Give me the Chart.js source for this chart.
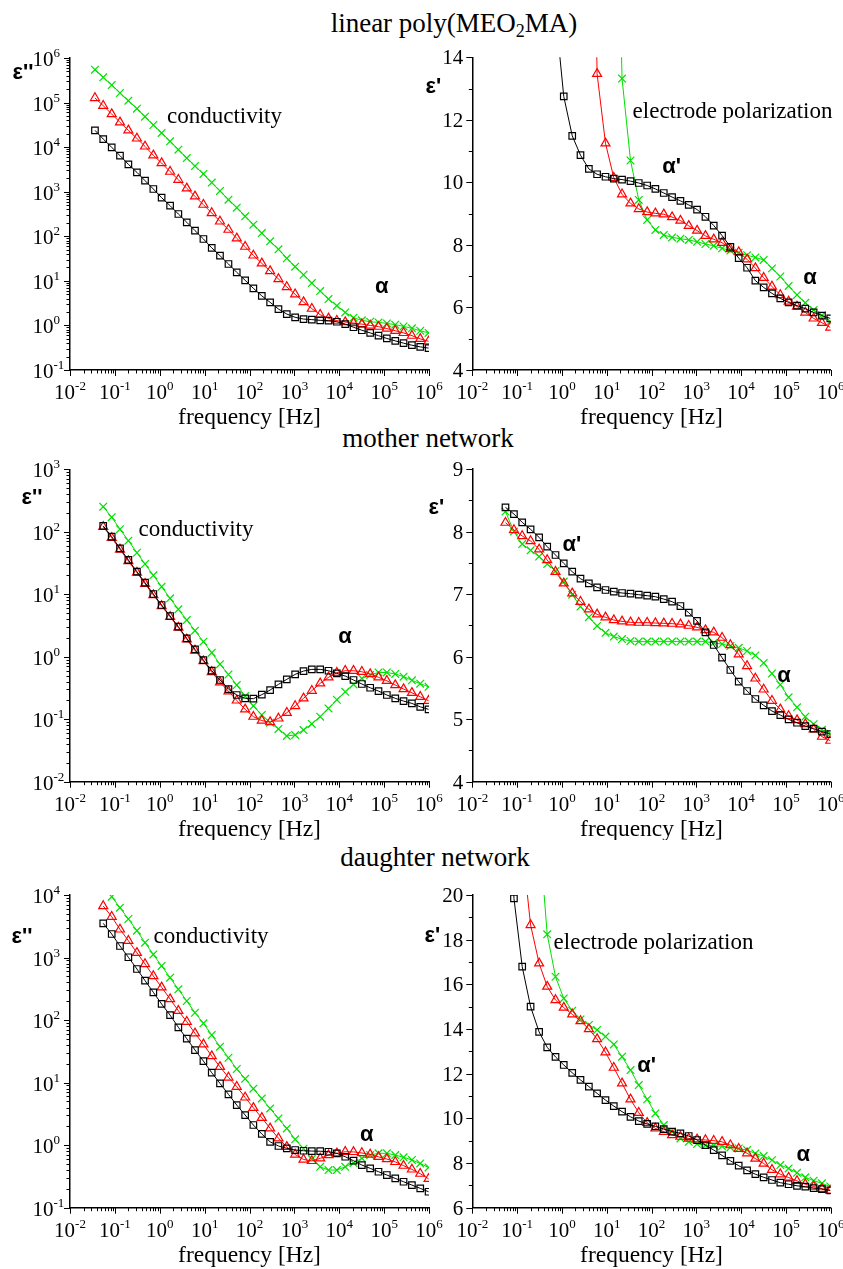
<!DOCTYPE html>
<html lang="en">
<head>
<meta charset="utf-8">
<title>Dielectric spectra</title>
<script src="https://cdn.jsdelivr.net/npm/chart.js@4.4.1/dist/chart.umd.min.js"></script>
<style>
  html, body { margin: 0; padding: 0; background: #fff; }
  body { position: relative; width: 843px; height: 1269px; overflow: hidden; }
  canvas { position: absolute; }
  .title { position: absolute; transform: translateX(-50%); white-space: nowrap;
           font-family: "Liberation Serif", "Times New Roman", serif; font-size: 27px; line-height: 27px; color: #000; }
  .title sub { font-size: 18px; line-height: 0; vertical-align: -5px; }
</style>
</head>
<body>
<div class="title" style="left:454px; top:10px;">linear poly(MEO<sub>2</sub>MA)</div>
<div class="title" style="left:428px; top:425px;">mother network</div>
<div class="title" style="left:435px; top:844px;">daughter network</div>
<script>
// measurement frequencies (Hz), same grid for all panels
const freqHz = [0.036, 0.055, 0.085, 0.13, 0.2, 0.31, 0.47, 0.72, 1.1, 1.7, 2.6, 4.0, 6.1, 9.4, 14.4, 22, 34, 52, 80, 122,
  188, 288, 442, 678, 1040, 1600, 2450, 3760, 5760, 8840, 13600, 20800, 31900, 48900, 75000, 115000, 177000, 271000, 416000, 638000, 978000];

// tick labels (decade exponents for the log axes, values for the linear ones)
const freqDecades = [-2, -1, 0, 1, 2, 3, 4, 5, 6];
const linLossDecades = [-1, 0, 1, 2, 3, 4, 5, 6];
const motherLossDecades = [-2, -1, 0, 1, 2, 3];
const daughterLossDecades = [-1, 0, 1, 2, 3, 4];
const linPermTicks = [4, 6, 8, 10, 12, 14];
const motherPermTicks = [4, 5, 6, 7, 8, 9];
const daughterPermTicks = [6, 8, 10, 12, 14, 16, 18, 20];

// linear poly(MEO2MA): eps'' and eps'
const linLossBlack = [23800, 15200, 9900, 6460, 4110, 2720, 1770, 1150, 735, 486, 316, 206, 134, 87, 55, 36.7, 23.9, 15.5, 10.3, 6.8,
  4.6, 3.3, 2.33, 1.8, 1.52, 1.39, 1.35, 1.3, 1.28, 1.21, 1.07, 0.91, 0.78, 0.68, 0.59, 0.51, 0.45, 0.40, 0.36, 0.33, 0.31];
const linLossRed = [127000, 85000, 55300, 36000, 23800, 15700, 10400, 6550, 4400, 2820, 1860, 1190, 787, 512, 333, 216, 141, 90, 58.5, 37.3,
  24.7, 16.6, 11, 7.3, 5.0, 3.35, 2.38, 1.74, 1.44, 1.28, 1.19, 1.13, 1.07, 1.0, 0.94, 0.85, 0.76, 0.68, 0.59, 0.5, 0.44];
const linLossGreen = [547000, 368000, 248000, 164000, 110000, 73000, 48300, 31400, 20800, 13500, 8770, 5700, 3770, 2500, 1600, 1040, 663, 439, 280, 182,
  118, 77, 51, 32, 20.8, 13.7, 8.9, 5.9, 3.9, 2.77, 1.96, 1.49, 1.3, 1.21, 1.17, 1.11, 1.04, 0.95, 0.86, 0.76, 0.68];

const linPermBlack = [null, null, null, null, null, null, null, 15.44, 12.75, 11.49, 10.87, 10.43, 10.26, 10.18, 10.12, 10.09, 10.04, 9.98, 9.9, 9.79,
  9.66, 9.53, 9.41, 9.28, 9.13, 8.9, 8.62, 8.3, 7.94, 7.58, 7.27, 6.86, 6.64, 6.45, 6.29, 6.16, 6.06, 5.96, 5.84, 5.74, 5.65];
const linPermRed = [null, null, null, null, null, null, null, null, null, null, null, 30, 13.47, 11.25, 10.15, 9.62, 9.33, 9.15, 9.05, 9.01,
  8.98, 8.89, 8.78, 8.61, 8.46, 8.29, 8.18, 8.07, 7.87, 7.77, 7.54, 7.26, 6.95, 6.67, 6.4, 6.19, 6.03, 5.84, 5.65, 5.51, 5.36];
const linPermGreen = [null, null, null, null, null, null, null, null, null, null, null, null, null, null, 25, 13.32, 10.7, 9.44, 8.8, 8.48,
  8.32, 8.24, 8.2, 8.16, 8.1, 8.03, 7.97, 7.89, 7.82, 7.75, 7.67, 7.6, 7.52, 7.25, 6.99, 6.69, 6.4, 6.15, 5.92, 5.75, 5.55];

// mother network
const motherLossBlack = [null, 124, 83.6, 54.3, 35.4, 23, 15.3, 10.1, 6.73, 4.49, 3.03, 1.97, 1.31, 0.885, 0.6, 0.424, 0.304, 0.244, 0.216, 0.213,
  0.247, 0.293, 0.361, 0.435, 0.522, 0.59, 0.628, 0.628, 0.597, 0.542, 0.491, 0.424, 0.366, 0.319, 0.282, 0.244, 0.216, 0.195, 0.179, 0.158, 0.144];
const motherLossRed = [null, 120, 80, 52, 34, 22.2, 14.7, 9.7, 6.5, 4.35, 2.93, 1.9, 1.26, 0.85, 0.57, 0.39, 0.28, 0.2, 0.144, 0.11,
  0.095, 0.09, 0.103, 0.127, 0.163, 0.216, 0.286, 0.375, 0.468, 0.555, 0.597, 0.597, 0.575, 0.528, 0.468, 0.413, 0.352, 0.304, 0.265, 0.229, 0.198];
const motherLossGreen = [null, 252, 171, 110, 72, 46.2, 30.5, 20.1, 13.2, 8.6, 5.74, 3.87, 2.61, 1.74, 1.16, 0.76, 0.52, 0.352, 0.235, 0.163,
  0.117, 0.088, 0.070, 0.054, 0.056, 0.067, 0.084, 0.110, 0.149, 0.205, 0.275, 0.36, 0.45, 0.51, 0.56, 0.56, 0.53, 0.48, 0.42, 0.37, 0.33];

const motherPermBlack = [null, 8.387, 8.28, 8.147, 8.035, 7.907, 7.758, 7.625, 7.491, 7.358, 7.246, 7.172, 7.108, 7.065, 7.038, 7.017, 7.006, 6.99, 6.974, 6.958,
  6.92, 6.878, 6.809, 6.703, 6.57, 6.388, 6.186, 5.983, 5.786, 5.599, 5.45, 5.322, 5.221, 5.13, 5.066, 4.997, 4.943, 4.89, 4.848, 4.8, 4.762];
const motherPermRed = [null, 8.142, 8.025, 7.929, 7.849, 7.715, 7.545, 7.358, 7.172, 7.012, 6.878, 6.756, 6.676, 6.628, 6.585, 6.564, 6.548, 6.543, 6.543, 6.537,
  6.532, 6.527, 6.516, 6.495, 6.468, 6.425, 6.388, 6.303, 6.186, 6.037, 5.85, 5.652, 5.476, 5.295, 5.157, 5.051, 4.986, 4.922, 4.837, 4.72, 4.656];
const motherPermGreen = [null, 8.32, 8.0, 7.8, 7.7, 7.6, 7.48, 7.37, 7.2, 6.99, 6.8, 6.63, 6.49, 6.38, 6.32, 6.28, 6.25, 6.24, 6.24, 6.24,
  6.24, 6.24, 6.24, 6.24, 6.24, 6.24, 6.22, 6.2, 6.17, 6.14, 6.09, 6.02, 5.9, 5.73, 5.55, 5.35, 5.19, 5.04, 4.92, 4.83, 4.77];

// daughter network
const daughterLossBlack = [null, 3520, 2380, 1530, 1010, 656, 427, 278, 181, 120, 76.6, 50.4, 33.2, 22.1, 14.4, 9.73, 6.49, 4.38, 3.03, 2.1,
  1.51, 1.13, 0.97, 0.89, 0.836, 0.814, 0.805, 0.8, 0.785, 0.74, 0.653, 0.564, 0.481, 0.426, 0.376, 0.333, 0.294, 0.26, 0.23, 0.204, 0.18];
const daughterLossRed = [null, 6670, 4500, 2820, 1860, 1190, 788, 507, 334, 217, 141, 94.2, 61.4, 40.9, 26.6, 17.9, 12.1, 8.6, 5.8, 3.96,
  2.74, 1.86, 1.29, 0.94, 0.71, 0.59, 0.56, 0.615, 0.695, 0.74, 0.785, 0.78, 0.75, 0.71, 0.65, 0.6, 0.54, 0.47, 0.41, 0.35, 0.29];
const daughterLossGreen = [null, null, 9400, 6270, 4130, 2690, 1730, 1120, 733, 477, 310, 202, 131, 88.7, 57.7, 37.5, 25, 16.5, 11.5, 8.0,
  5.58, 3.86, 2.68, 1.85, 1.24, 0.88, 0.6, 0.45, 0.4, 0.4, 0.45, 0.52, 0.615, 0.695, 0.74, 0.74, 0.695, 0.64, 0.58, 0.51, 0.44];

const daughterPermBlack = [null, 35, 19.85, 16.79, 15.0, 13.87, 13.18, 12.75, 12.39, 12.04, 11.72, 11.42, 11.12, 10.82, 10.55, 10.3, 10.07, 9.88, 9.75, 9.64,
  9.52, 9.41, 9.33, 9.21, 9.03, 8.8, 8.58, 8.34, 8.1, 7.88, 7.67, 7.5, 7.36, 7.24, 7.12, 7.05, 6.98, 6.94, 6.88, 6.83, 6.78];
const daughterPermRed = [null, null, null, 22.2, 18.66, 16.94, 15.9, 15.3, 14.96, 14.66, 14.36, 14.0, 13.55, 12.96, 12.27, 11.57, 10.85, 10.25, 9.8, 9.55,
  9.4, 9.25, 9.18, 9.1, 9.06, 9.03, 9.0, 8.95, 8.8, 8.64, 8.44, 8.2, 7.98, 7.7, 7.5, 7.35, 7.2, 7.05, 6.95, 6.85, 6.77];
const daughterPermGreen = [null, null, null, null, null, 22.9, 18.24, 16.34, 15.37, 14.82, 14.43, 14.18, 13.96, 13.66, 13.31, 12.76, 12.16, 11.49, 10.85, 10.22,
  9.7, 9.4, 9.1, 8.95, 8.85, 8.8, 8.78, 8.75, 8.7, 8.65, 8.58, 8.43, 8.31, 8.13, 7.91, 7.76, 7.56, 7.36, 7.21, 7.09, 6.95];

// marker styles: black squares, red triangles, green crosses
const styles = [
  { color: '#000000', pointStyle: 'rect', radius: 4.6 },
  { color: '#ff0000', pointStyle: 'triangle', radius: 5.2 },
  { color: '#00e000', pointStyle: 'crossRot', radius: 5.4 }
];

const SERIF = '"Liberation Serif", "Times New Roman", serif';
const SANS = '"Liberation Sans", Arial, sans-serif';

// panel layout (canvas position + padding that puts the plot area where the original has it)
const panels = [
  { name: 'linLoss', left: 0, top: 40, width: 450, height: 390, pad: { left: 70, top: 18, right: 21, bottom: 60 },
    yType: 'logarithmic', yMin: 0.1, yMax: 1e6, yDecades: linLossDecades,
    series: [linLossBlack, linLossRed, linLossGreen], yLabel: "ε''", yLabelAt: [-47, 15],
    notes: [{ text: 'conductivity', f: 27.7, v: 4.7e4 }, { text: 'α', f: 8.85e4, v: 7.4, bold: true }] },
  { name: 'linPerm', left: 420, top: 40, width: 423, height: 390, pad: { left: 52.3, top: 17.3, right: 12.3, bottom: 60 },
    yType: 'linear', yMin: 4, yMax: 14, yTicks: linPermTicks, yMinorStep: 1,
    series: [linPermBlack, linPermRed, linPermGreen], yLabel: "ε'", yLabelAt: [-39, 30],
    notes: [{ text: 'electrode polarization', f: 6430, v: 12.25 }, { text: "α'", f: 282, v: 10.5, bold: true },
            { text: 'α', f: 3.45e5, v: 6.94, bold: true }] },
  { name: 'motherLoss', left: 0, top: 450, width: 450, height: 390, pad: { left: 70, top: 19.3, right: 21, bottom: 58.3 },
    yType: 'logarithmic', yMin: 0.01, yMax: 1e3, yDecades: motherLossDecades,
    series: [motherLossBlack, motherLossRed, motherLossGreen], yLabel: "ε''", yLabelAt: [-38, 29],
    notes: [{ text: 'conductivity', f: 6.4, v: 107 }, { text: 'α', f: 1.35e4, v: 2.07, bold: true }] },
  { name: 'motherPerm', left: 420, top: 450, width: 423, height: 390, pad: { left: 52.3, top: 19, right: 12.3, bottom: 58.3 },
    yType: 'linear', yMin: 4, yMax: 9, yTicks: motherPermTicks, yMinorStep: 0.5,
    series: [motherPermBlack, motherPermRed, motherPermGreen], yLabel: "ε'", yLabelAt: [-36, 39],
    notes: [{ text: "α'", f: 1.66, v: 7.785, bold: true }, { text: 'α', f: 9.08e4, v: 5.69, bold: true }] },
  { name: 'daughterLoss', left: 0, top: 870, width: 450, height: 399, pad: { left: 70, top: 25, right: 21, bottom: 61.3 },
    yType: 'logarithmic', yMin: 0.1, yMax: 1e4, yDecades: daughterLossDecades,
    series: [daughterLossBlack, daughterLossRed, daughterLossGreen], yLabel: "ε''", yLabelAt: [-48, 42],
    notes: [{ text: 'conductivity', f: 13.9, v: 2150 }, { text: 'α', f: 4.09e4, v: 1.45, bold: true }] },
  { name: 'daughterPerm', left: 420, top: 870, width: 423, height: 399, pad: { left: 52.3, top: 25, right: 12.3, bottom: 61.3 },
    yType: 'linear', yMin: 6, yMax: 20, yTicks: daughterPermTicks, yMinorStep: 1,
    series: [daughterPermBlack, daughterPermRed, daughterPermGreen], yLabel: "ε'", yLabelAt: [-40, 41],
    notes: [{ text: 'electrode polarization', f: 111, v: 17.85 }, { text: "α'", f: 78, v: 12.34, bold: true },
            { text: 'α', f: 2.44e5, v: 8.36, bold: true }] }
];

function makeDataset(values, st) {
  return {
    data: freqHz.map((f, i) => ({ x: f, y: values[i] })),
    borderColor: st.color,
    borderWidth: 1,
    pointStyle: st.pointStyle,
    pointRadius: st.radius,
    pointBorderColor: st.color,
    pointBackgroundColor: 'rgba(0,0,0,0)',
    pointBorderWidth: 1.2,
    tension: 0,
    spanGaps: false
  };
}

// "10" with a raised exponent
function powerLabel(ctx, x, base, exp, mode) {
  const txt = String(exp);
  ctx.font = '21px ' + SERIF;
  const w10 = ctx.measureText('10').width;
  ctx.font = '13px ' + SERIF;
  const wExp = ctx.measureText(txt).width;
  const x0 = mode === 'center' ? x - (w10 + wExp) / 2 : x - w10;
  ctx.textAlign = 'left';
  ctx.textBaseline = 'alphabetic';
  ctx.font = '21px ' + SERIF;
  ctx.fillText('10', x0, base);
  ctx.font = '13px ' + SERIF;
  ctx.fillText(txt, x0 + w10, base - 9);
}

function decorations(p) {
  return {
    id: 'decor_' + p.name,
    afterDraw(chart) {
      const ctx = chart.ctx;
      const xs = chart.scales.x, ys = chart.scales.y, a = chart.chartArea;
      const line = (x1, y1, x2, y2) => { ctx.beginPath(); ctx.moveTo(x1, y1); ctx.lineTo(x2, y2); ctx.stroke(); };
      ctx.save();
      ctx.strokeStyle = '#000';
      ctx.fillStyle = '#000';
      ctx.lineWidth = 1;

      // x axis: ticks outside, labels 10^n
      freqDecades.forEach((e, k) => {
        const xm = Math.round(xs.getPixelForValue(10 ** e)) + 0.5;
        line(xm, a.bottom, xm, a.bottom + 6);
        if (k < freqDecades.length - 1) {
          for (let m = 2; m <= 9; m++) {
            const xn = Math.round(xs.getPixelForValue(m * 10 ** e)) + 0.5;
            line(xn, a.bottom, xn, a.bottom + 3.5);
          }
        }
        powerLabel(ctx, xs.getPixelForValue(10 ** e), a.bottom + 29, e, 'center');
      });

      // y axis
      if (p.yType === 'logarithmic') {
        p.yDecades.forEach((e, k) => {
          const ym = Math.round(ys.getPixelForValue(10 ** e)) + 0.5;
          line(a.left - 6, ym, a.left, ym);
          if (k < p.yDecades.length - 1) {
            for (let m = 2; m <= 9; m++) {
              const yn = Math.round(ys.getPixelForValue(m * 10 ** e)) + 0.5;
              line(a.left - 3.5, yn, a.left, yn);
            }
          }
          powerLabel(ctx, a.left - 16.5, ys.getPixelForValue(10 ** e) + 8, e, 'right');
        });
      } else {
        for (let v = p.yMin; v <= p.yMax + 1e-9; v += p.yMinorStep) {
          const yv = Math.round(ys.getPixelForValue(v)) + 0.5;
          const major = p.yTicks.includes(Math.round(v * 100) / 100);
          line(a.left - (major ? 6 : 3.5), yv, a.left, yv);
        }
        ctx.font = '21px ' + SERIF;
        ctx.textAlign = 'right';
        ctx.textBaseline = 'alphabetic';
        p.yTicks.forEach(v => ctx.fillText(String(v), a.left - 9, ys.getPixelForValue(v) + 7));
      }

      // axis titles
      ctx.font = '23.5px ' + SERIF;
      ctx.textAlign = 'center';
      ctx.textBaseline = 'alphabetic';
      ctx.fillText('frequency [Hz]', (a.left + a.right) / 2, a.bottom + 54);

      ctx.font = 'bold 22px ' + SANS;
      ctx.textBaseline = 'middle';
      ctx.fillText(p.yLabel, a.left + p.yLabelAt[0], a.top + p.yLabelAt[1]);

      // annotations placed in data coordinates
      p.notes.forEach(n => {
        ctx.font = n.bold ? 'bold 22px ' + SANS : '23px ' + SERIF;
        ctx.fillText(n.text, xs.getPixelForValue(n.f), ys.getPixelForValue(n.v));
      });
      ctx.restore();
    }
  };
}

panels.forEach(p => {
  const canvas = document.createElement('canvas');
  canvas.width = p.width;
  canvas.height = p.height;
  canvas.style.left = p.left + 'px';
  canvas.style.top = p.top + 'px';
  document.body.appendChild(canvas);

  const axisBase = {
    ticks: { display: false },
    grid: { display: false, drawTicks: false },
    border: { display: true, color: '#000', width: 1.5 }
  };

  new Chart(canvas, {
    type: 'line',
    data: { datasets: p.series.map((vals, k) => makeDataset(vals, styles[k])) },
    options: {
      responsive: false,
      animation: false,
      devicePixelRatio: 1,
      layout: { padding: p.pad },
      plugins: { legend: { display: false }, tooltip: { enabled: false } },
      scales: {
        x: Object.assign({ type: 'logarithmic', min: 0.01, max: 1e6 }, axisBase),
        y: Object.assign({ type: p.yType, min: p.yMin, max: p.yMax }, axisBase)
      }
    },
    plugins: [decorations(p)]
  });
});
</script>
</body>
</html>
